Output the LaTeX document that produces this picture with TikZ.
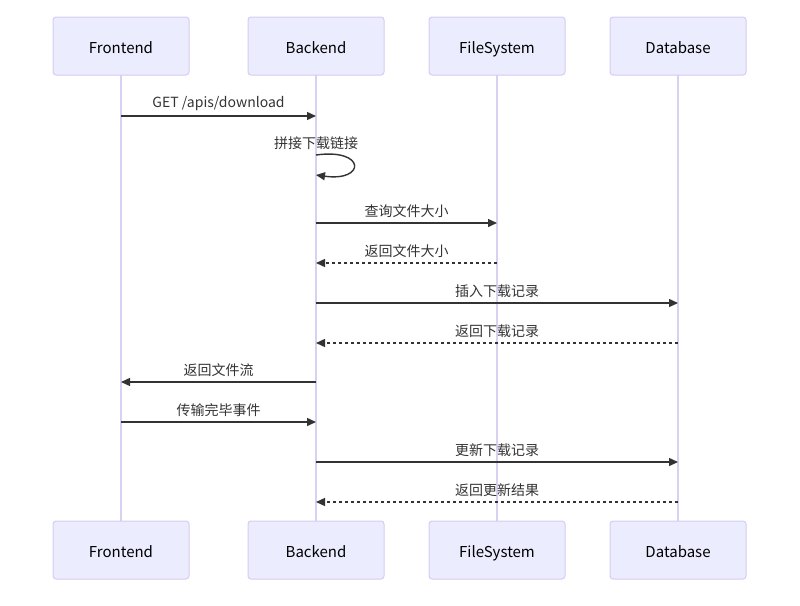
\documentclass[tikz,border=0pt]{standalone}
\usepackage{fontspec}
\setmainfont{Noto Sans CJK SC}
\usetikzlibrary{arrows.meta}
\definecolor{boxfill}{HTML}{ECECFF}
\definecolor{boxline}{HTML}{D6CCF2}
\definecolor{lifeline}{HTML}{D9D0F2}
\definecolor{msg}{HTML}{333333}
\tikzset{
  actor/.style={draw=boxline, fill=boxfill, line width=1pt, rounded corners=3pt,
    minimum width=136pt, minimum height=58pt, inner sep=0pt, text height=15pt, text depth=0pt,
    font=\fontsize{15pt}{16pt}\selectfont, text=black},
  life/.style={draw=lifeline, line width=1.3pt},
  msgline/.style={draw=msg, line width=1.4pt, -{Triangle[length=9pt,width=8pt]}},
  reply/.style={msgline, dash pattern=on 3pt off 3pt},
  lbl/.style={font=\fontsize{14pt}{15pt}\selectfont, text=msg, inner sep=0pt}
}
\begin{document}
\begin{tikzpicture}[x=1pt,y=-1pt]
\useasboundingbox (0,0) rectangle (800,605);
% lifelines
\foreach \n/\x in {F/121,B/316,S/497,D/678}{
  \coordinate (\n top) at (\x,75);
  \coordinate (\n bot) at (\x,521);
  \draw[life] (\n top) -- (\n bot);
}
\node[actor] (Ft) at (121,46) {Frontend};
\node[actor] (Bt) at (316,46) {Backend};
\node[actor] (St) at (497,46) {FileSystem};
\node[actor] (Dt) at (678,46) {Database};
\node[actor] (Fb) at (121,550) {Frontend};
\node[actor] (Bb) at (316,550) {Backend};
\node[actor] (Sb) at (497,550) {FileSystem};
\node[actor] (Db) at (678,550) {Database};
% messages
\foreach \n/\y in {1/116,2a/155,2b/175,3/223,4/263,5/303,6/343,7/382,8/422,9/462,10/502}{
  \coordinate (F\n) at (121,\y);
  \coordinate (B\n) at (316,\y);
  \coordinate (S\n) at (497,\y);
  \coordinate (D\n) at (678,\y);
}
\draw[msgline] (F1) -- (B1) node[lbl, midway, above=5pt] {GET /apis/download};
\node[lbl] (selflbl) at (316,143) {拼接下载链接};
\draw[msgline] (B2a) .. controls (366,148) and (366,182) .. (B2b);
\draw[msgline] (B3) -- (S3) node[lbl, midway, above=5pt] {查询文件大小};
\draw[reply] (S4) -- (B4) node[lbl, midway, above=5pt] {返回文件大小};
\draw[msgline] (B5) -- (D5) node[lbl, midway, above=5pt] {插入下载记录};
\draw[reply] (D6) -- (B6) node[lbl, midway, above=5pt] {返回下载记录};
\draw[msgline] (B7) -- (F7) node[lbl, midway, above=5pt] {返回文件流};
\draw[msgline] (F8) -- (B8) node[lbl, midway, above=5pt] {传输完毕事件};
\draw[msgline] (B9) -- (D9) node[lbl, midway, above=5pt] {更新下载记录};
\draw[reply] (D10) -- (B10) node[lbl, midway, above=5pt] {返回更新结果};
\end{tikzpicture}
\end{document}
